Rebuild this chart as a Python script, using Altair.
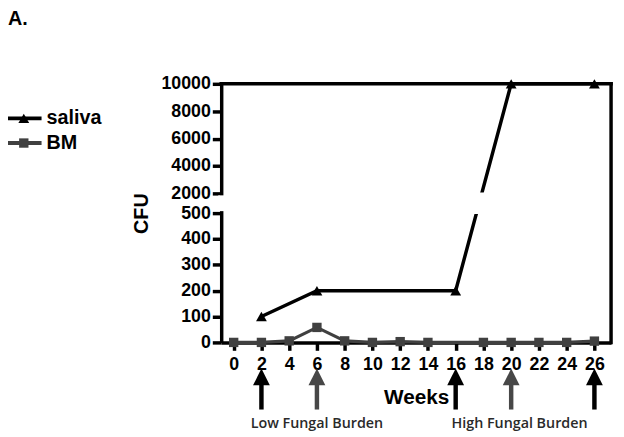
import altair as alt
import pandas as pd

# ---- data ----
weeks_saliva = [2, 6, 16, 20, 26]
cfu_saliva = [100, 200, 200, 10000, 10000]
weeks_bm = [0, 2, 4, 6, 8, 10, 12, 14, 18, 20, 22, 24, 26]
cfu_bm = [0, 0, 6, 58, 6, 0, 3, 0, 0, 0, 0, 0, 5]
series_names = ["saliva", "BM"]
series_colors = ["#000000", "#404040"]
series_shapes = ["triangle-up", "square"]
x_ticks = list(range(0, 27, 2))
y_ticks_low = [0, 100, 200, 300, 400, 500]
y_ticks_high = [2000, 4000, 6000, 8000, 10000]
arrow_weeks = [2, 6, 16, 20, 26]
arrow_colors = ["#000000", "#474747", "#000000", "#474747", "#000000"]
burden_labels = ["Low Fungal Burden", "High Fungal Burden"]
burden_weeks = [6, 20.6]
panel_label = "A."

# ---- layout / broken-axis geometry ----
W, H = 395, 262
LOW_MAX, HIGH_MIN, HIGH_MAX = 500, 2000, 10000
LOW_PX, GAP_PX = 131.0, 20.0
HIGH_PX = H - LOW_PX - GAP_PX
FONT = "Liberation Sans"


def disp(v):
    if v <= LOW_MAX:
        return v * LOW_PX / LOW_MAX
    return LOW_PX + GAP_PX + (v - HIGH_MIN) * HIGH_PX / (HIGH_MAX - HIGH_MIN)


calc_expr = (
    f"datum.cfu <= {LOW_MAX} ? datum.cfu * {LOW_PX / LOW_MAX} : "
    f"{LOW_PX + GAP_PX} + (datum.cfu - {HIGH_MIN}) * {HIGH_PX / (HIGH_MAX - HIGH_MIN)}"
)
label_expr = (
    f"datum.value <= {LOW_PX + 1} ? format(round(datum.value * {LOW_MAX / LOW_PX} / 100) * 100, 'd') : "
    f"format(round(({HIGH_MIN} + (datum.value - {LOW_PX + GAP_PX}) * {(HIGH_MAX - HIGH_MIN) / HIGH_PX}) / 100) * 100, 'd')"
)

df = pd.concat([
    pd.DataFrame({"week": weeks_saliva, "cfu": cfu_saliva, "series": "saliva"}),
    pd.DataFrame({"week": weeks_bm, "cfu": cfu_bm, "series": "BM"}),
])

xscale = alt.Scale(domain=[-0.9, 27.2], nice=False, zero=False)
xaxis = alt.Axis(
    values=x_ticks, title="Weeks", grid=False,
    domainColor="black", domainWidth=3.5, tickColor="black", tickWidth=3.5, tickSize=8,
    labelFont=FONT, labelFontSize=18, labelFontWeight="bold", labelColor="black", labelPadding=5,
    labelFlush=False, labelOverlap=False,
    titleFont=FONT, titleFontSize=21, titleFontWeight="bold", titleColor="black", titlePadding=14,
)
yscale = alt.Scale(domain=[0, H], nice=False, zero=False)
yaxis = alt.Axis(
    values=[disp(v) for v in y_ticks_low + y_ticks_high], labelExpr=label_expr,
    title="CFU", grid=False,
    domainColor="black", domainWidth=3.5, tickColor="black", tickWidth=3.5, tickSize=9,
    labelFont=FONT, labelFontSize=18, labelFontWeight="bold", labelColor="black", labelPadding=2,
    labelFlush=False, labelOverlap=False,
    titleFont=FONT, titleFontSize=20, titleFontWeight="bold", titleColor="black", titlePadding=10,
)
x_enc = alt.X("week:Q", scale=xscale, axis=xaxis)
y_enc = alt.Y("disp:Q", scale=yscale, axis=yaxis)
color_enc = alt.Color("series:N", scale=alt.Scale(domain=series_names, range=series_colors), legend=None)

base = alt.Chart(df).transform_calculate(disp=calc_expr)

lines = base.mark_line(strokeJoin="miter").encode(
    x=x_enc, y=y_enc, color=color_enc, detail="series:N",
    strokeWidth=alt.StrokeWidth("series:N", scale=alt.Scale(domain=series_names, range=[3.5, 3.2]), legend=None),
)
points = base.mark_point(filled=True, opacity=1).encode(
    x=x_enc, y=y_enc, color=color_enc,
    shape=alt.Shape("series:N", scale=alt.Scale(domain=series_names, range=series_shapes), legend=None),
    size=alt.Size("series:N", scale=alt.Scale(domain=series_names, range=[120, 90]), legend=None),
)

# axis break: white masks
dummy = alt.Chart(pd.DataFrame({"k": [0]}))
mask_plot = dummy.mark_rect(color="white").encode(
    x=alt.value(3), x2=alt.value(W - 3),
    y=alt.value(H - LOW_PX - GAP_PX - 1), y2=alt.value(H - LOW_PX + 1),
)
mask_axis = dummy.mark_rect(color="white").encode(
    x=alt.value(-3), x2=alt.value(3),
    y=alt.value(H - LOW_PX - GAP_PX + 2), y2=alt.value(H - LOW_PX - 2),
)
frame_top = dummy.mark_rule(color="black", strokeWidth=3.5, strokeCap="square").encode(
    x=alt.value(0), x2=alt.value(W), y=alt.value(0)
)
frame_right = dummy.mark_rule(color="black", strokeWidth=3.5, strokeCap="square").encode(
    x=alt.value(W), y=alt.value(0), y2=alt.value(H)
)

# arrows below the axis
arrows_df = pd.DataFrame({"week": arrow_weeks, "col": arrow_colors})
arrow_shaft = alt.Chart(arrows_df).mark_rule(strokeWidth=4.5).encode(
    x=x_enc, y=alt.value(302), y2=alt.value(330), color=alt.Color("col:N", scale=None)
)
arrow_head = alt.Chart(arrows_df).mark_point(
    shape="M0,-1L1,1L-1,1Z", filled=True, opacity=1, size=290
).encode(x=x_enc, y=alt.value(297), color=alt.Color("col:N", scale=None))

burden_df = pd.DataFrame({"week": burden_weeks, "label": burden_labels})
burden_text = alt.Chart(burden_df).mark_text(
    font="Open Sans", fontSize=14.5, fontWeight=600, color="#2a2a2a", baseline="middle", align="center"
).encode(x=x_enc, text="label:N", y=alt.value(345))

# manual legend (line + marker + label)
legend_layers = []
for i, (name, colr, shp) in enumerate(zip(series_names, series_colors, series_shapes)):
    ly = 35 + i * 25
    ldf = pd.DataFrame({"series": [name]})
    legend_layers.append(alt.Chart(ldf).mark_rule(color=colr, strokeWidth=4).encode(
        x=alt.value(-216), x2=alt.value(-182), y=alt.value(ly)))
    legend_layers.append(alt.Chart(ldf).mark_point(
        shape=shp, filled=True, opacity=1, color=colr, size=120 if i == 0 else 90
    ).encode(x=alt.value(-200), y=alt.value(ly)))
    legend_layers.append(alt.Chart(ldf).mark_text(
        font=FONT, fontSize=20, fontWeight="bold", color="black", align="left", baseline="middle"
    ).encode(x=alt.value(-177), y=alt.value(ly), text="series:N"))

title_text = dummy.mark_text(
    text=panel_label, font=FONT, fontSize=20, fontWeight="bold", color="black",
    align="left", baseline="alphabetic"
).encode(x=alt.value(-216), y=alt.value(-60))

chart = alt.layer(
    lines, points, mask_plot, mask_axis, frame_top, frame_right,
    arrow_shaft, arrow_head, burden_text, *legend_layers, title_text,
).properties(
    width=W, height=H,
    autosize=alt.AutoSizeParams(type="none"),
    padding={"left": 216, "top": 74, "right": 5, "bottom": 92},
).configure_view(stroke=None)

chart.save("out.html", embed_options={"renderer": "svg", "actions": False})
